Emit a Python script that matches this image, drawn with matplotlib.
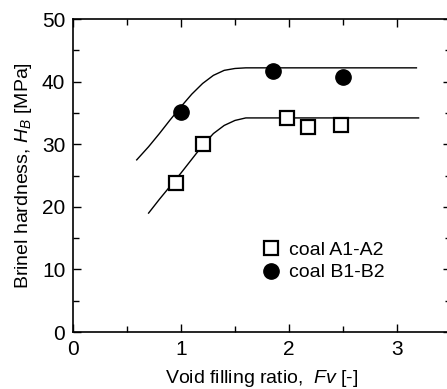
import matplotlib.pyplot as plt
import numpy as np

plt.rcParams['font.family'] = ['Liberation Sans', 'DejaVu Sans']
plt.rcParams['mathtext.fontset'] = 'custom'
plt.rcParams['mathtext.rm'] = 'Liberation Sans'
plt.rcParams['mathtext.it'] = 'Liberation Sans:italic'

# measured points
fv_a = [0.95, 1.2, 1.98, 2.18, 2.48]
hb_a = [23.8, 30.0, 34.2, 32.7, 33.0]
fv_b = [1.0, 1.85, 2.5]
hb_b = [35.2, 41.7, 40.7]

# fitted curves
curve_a_x = [0.70, 0.8, 0.9, 1.0, 1.1, 1.2, 1.3, 1.4, 1.5, 1.6, 3.2]
curve_a_y = [19.0, 21.2, 23.3, 25.4, 27.6, 29.8, 31.7, 33.0, 33.8, 34.2, 34.2]
curve_b_x = [0.59, 0.7, 0.8, 0.9, 1.0, 1.1, 1.2, 1.3, 1.4, 1.5, 1.6, 3.18]
curve_b_y = [27.5, 29.6, 31.7, 33.9, 36.0, 38.0, 39.7, 41.0, 41.8, 42.1, 42.2, 42.2]

fig = plt.figure(figsize=(4.47, 3.89), dpi=100)
ax = fig.add_axes([0.1633, 0.1465, 0.8456, 0.8046])

ax.plot(curve_a_x, curve_a_y, color='black', lw=1.0)
ax.plot(curve_b_x, curve_b_y, color='black', lw=1.0)
ax.plot(fv_a, hb_a, 's', ms=9.5, mfc='white', mec='black', mew=1.6,
        ls='none', label='coal A1-A2')
ax.plot(fv_b, hb_b, 'o', ms=11, color='black', ls='none', label='coal B1-B2')

ax.set_xlim(0, 3.5)
ax.set_ylim(0, 50)
ax.set_xticks([0, 1, 2, 3])
ax.set_xticks([0.5, 1.5, 2.5, 3.5], minor=True)
ax.set_yticks([0, 10, 20, 30, 40, 50])
ax.set_yticks([5, 15, 25, 35, 45], minor=True)
ax.tick_params(which='both', direction='in', top=True, right=True,
               labelsize=15, width=1.0)
ax.tick_params(which='major', length=6, pad=5.5)
ax.tick_params(which='minor', length=4)
for s in ax.spines.values():
    s.set_linewidth(1.2)

ax.set_xlabel('Void filling ratio,  $Fv$ [-]', fontsize=14, labelpad=7)
ax.set_ylabel('Brinel hardness, $H_B$ [MPa]', fontsize=14, labelpad=6)

ax.legend(loc='upper left', bbox_to_anchor=(0.497, 0.29), frameon=False,
          fontsize=14, handletextpad=0.45, labelspacing=0.25,
          borderaxespad=0, borderpad=0, handlelength=1.0)

fig.savefig('out.png', dpi=100)
